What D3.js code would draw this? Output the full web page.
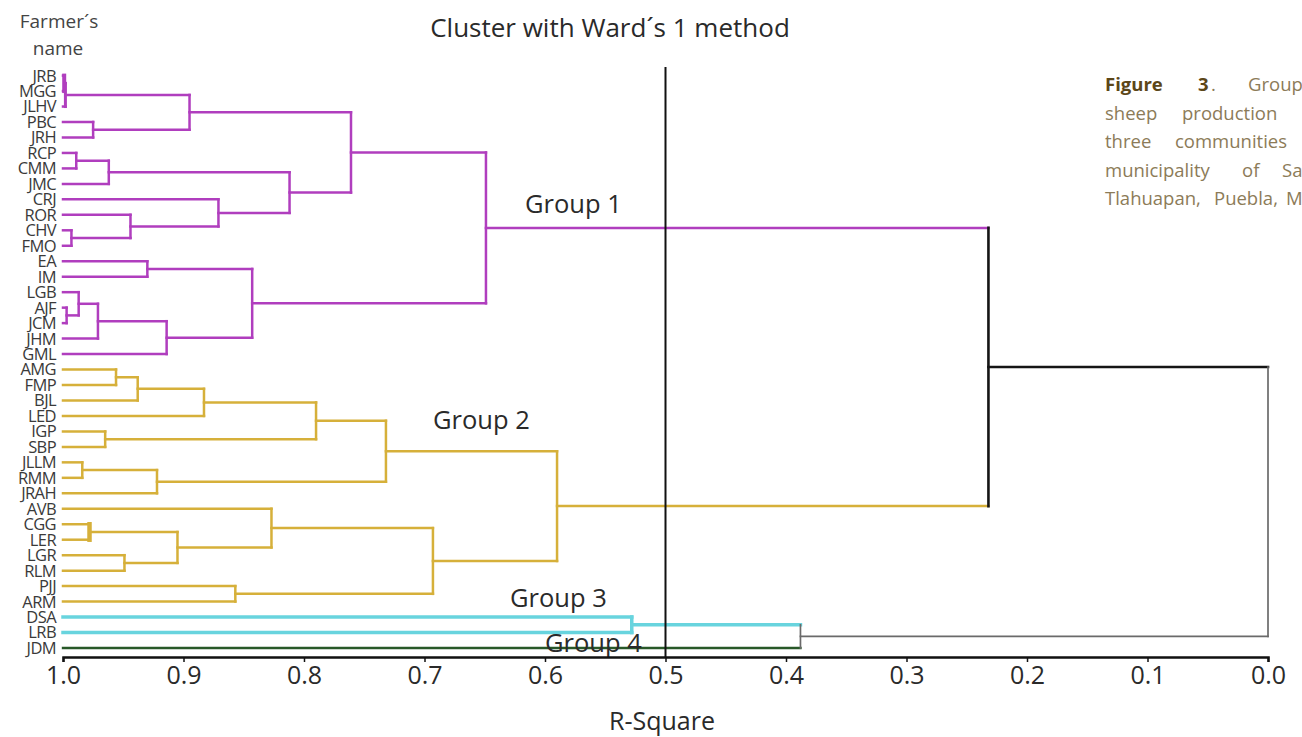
<!DOCTYPE html>
<html>
<head>
<meta charset="utf-8">
<script src="https://cdn.jsdelivr.net/npm/d3@7"></script>
<style>
  body { margin: 0; background: #fff; }
  text { font-family: "Open Sans", sans-serif; }
</style>
</head>
<body>
<script>
const w = 1302;
const h = 737;

// farmers, top to bottom as in the dendrogram
const farmers = ["JRB", "MGG", "JLHV", "PBC", "JRH", "RCP", "CMM", "JMC", "CRJ", "ROR",
  "CHV", "FMO", "EA", "IM", "LGB", "AJF", "JCM", "JHM", "GML",
  "AMG", "FMP", "BJL", "LED", "IGP", "SBP", "JLLM", "RMM", "JRAH", "AVB",
  "CGG", "LER", "LGR", "RLM", "PJJ", "ARM",
  "DSA", "LRB", "JDM"];

// merge steps: [left, right, R-square]; step i creates cluster "CL" + (i + 1)
const merges = [
  ["JRB", "MGG", 0.999], ["CL1", "JLHV", 0.998], ["PBC", "JRH", 0.975], ["CL2", "CL3", 0.895],
  ["RCP", "CMM", 0.989], ["CL5", "JMC", 0.962], ["CHV", "FMO", 0.993], ["ROR", "CL7", 0.944],
  ["CRJ", "CL8", 0.871], ["CL6", "CL9", 0.812], ["CL4", "CL10", 0.761], ["EA", "IM", 0.930],
  ["AJF", "JCM", 0.997], ["LGB", "CL13", 0.987], ["CL14", "JHM", 0.971], ["CL15", "GML", 0.914],
  ["CL12", "CL16", 0.843], ["CL11", "CL17", 0.649],
  ["AMG", "FMP", 0.956], ["CL19", "BJL", 0.938], ["CL20", "LED", 0.883], ["IGP", "SBP", 0.965],
  ["CL21", "CL22", 0.790], ["JLLM", "RMM", 0.984], ["CL24", "JRAH", 0.922], ["CL23", "CL25", 0.732],
  ["CGG", "LER", 0.978], ["LGR", "RLM", 0.949], ["CL27", "CL28", 0.905], ["AVB", "CL29", 0.827],
  ["PJJ", "ARM", 0.857], ["CL30", "CL31", 0.693], ["CL26", "CL32", 0.590],
  ["DSA", "LRB", 0.528], ["CL34", "JDM", 0.388],
  ["CL18", "CL33", 0.232], ["CL36", "CL35", 0.0]
];

const groupNames = ["Group 1", "Group 2", "Group 3", "Group 4"];
const groupRoots = ["CL18", "CL33", "CL34", "JDM"];
const axisTicks = [1.0, 0.9, 0.8, 0.7, 0.6, 0.5, 0.4, 0.3, 0.2, 0.1, 0.0];
const cutValue = 0.5;

// styles / layout
const groupColors = ["rgb(176, 62, 190)", "rgb(214, 176, 58)", "rgb(104, 212, 222)", "rgb(40, 88, 40)"];
const groupWidths = [2.5, 2.5, 3.5, 2.4];
const upperColors = { CL36: "#151515", CL35: "#6a6a6a", CL37: "#6a6a6a" };
const thickNodes = { CL1: 4, CL2: 3, CL27: 4.5 };
const groupLabelPos = [[525, 213], [433, 429], [510, 607], [545, 652]];

const svg = d3.select("body")
  .append("svg")
  .attr("width", w)
  .attr("height", h);

const x = d3.scaleLinear().domain([1, 0]).range([63, 1268]);
const y = d3.scalePoint().domain(farmers).range([75.6, 648]);

// build the tree from the merge list
const nodes = {};
farmers.forEach(f => { nodes[f] = { id: f, r: 1, y: y(f) }; });
merges.forEach((m, i) => {
  const a = nodes[m[0]], b = nodes[m[1]];
  nodes["CL" + (i + 1)] = { id: "CL" + (i + 1), r: m[2], y: (a.y + b.y) / 2, children: [a, b] };
});
const root = d3.hierarchy(nodes["CL" + merges.length]);

// colour by group
root.each(d => { d.color = upperColors[d.data.id] || "#6a6a6a"; d.width = 1.7; });
groupRoots.forEach((id, gi) => {
  const top = root.find(d => d.data.id === id);
  top.each(d => { d.color = groupColors[gi]; d.width = groupWidths[gi]; });
});
root.each(d => { if (d.data.id === "CL36") d.width = 2.6; });

const links = svg.append("g").attr("fill", "none").attr("stroke-linecap", "square");

// horizontal segment of each node up to its parent
links.selectAll("line.h")
  .data(root.descendants().filter(d => d.parent))
  .enter()
  .append("line")
  .attr("class", "h")
  .attr("x1", d => x(d.data.r))
  .attr("x2", d => x(d.parent.data.r))
  .attr("y1", d => d.data.y)
  .attr("y2", d => d.data.y)
  .attr("stroke", d => d.color)
  .attr("stroke-width", d => d.width);

// vertical segment joining the two children
links.selectAll("line.v")
  .data(root.descendants().filter(d => d.children))
  .enter()
  .append("line")
  .attr("class", "v")
  .attr("x1", d => x(d.data.r))
  .attr("x2", d => x(d.data.r))
  .attr("y1", d => d3.min(d.children, c => c.data.y))
  .attr("y2", d => d3.max(d.children, c => c.data.y))
  .attr("stroke", d => d.color)
  .attr("stroke-width", d => thickNodes[d.data.id] || d.width);

// leaf names
svg.append("g")
  .selectAll("text")
  .data(farmers)
  .enter()
  .append("text")
  .attr("x", 56)
  .attr("y", d => y(d))
  .attr("dy", "0.36em")
  .attr("text-anchor", "end")
  .attr("font-size", 16.5)
  .attr("letter-spacing", -0.6)
  .attr("fill", "#3a3a3a")
  .text(d => d);

// cut line at R-square 0.5
svg.append("line")
  .attr("x1", x(cutValue)).attr("x2", x(cutValue))
  .attr("y1", 67).attr("y2", 657)
  .attr("stroke", "#111")
  .attr("stroke-width", 2);

// group labels
svg.append("g")
  .selectAll("text")
  .data(groupNames)
  .enter()
  .append("text")
  .attr("x", (d, i) => groupLabelPos[i][0])
  .attr("y", (d, i) => groupLabelPos[i][1])
  .attr("font-size", 25.5)
  .attr("fill", "#2a2a2a")
  .text(d => d);

// axis
const axis = svg.append("g")
  .attr("transform", "translate(0, 657)")
  .call(d3.axisBottom(x).tickValues(axisTicks).tickFormat(d3.format(".1f")).tickSize(5).tickPadding(4));
axis.select(".domain").attr("stroke", "#111").attr("stroke-width", 2.5);
axis.selectAll(".tick line").attr("stroke", "#111").attr("stroke-width", 1.5);
axis.selectAll(".tick text").attr("font-size", 25).attr("fill", "#2a2a2a").attr("font-family", "Open Sans, sans-serif");

svg.append("text")
  .attr("x", 662).attr("y", 730)
  .attr("text-anchor", "middle")
  .attr("font-size", 25)
  .attr("fill", "#2a2a2a")
  .text("R-Square");

svg.append("text")
  .attr("x", 610).attr("y", 37)
  .attr("text-anchor", "middle")
  .attr("font-size", 26)
  .attr("fill", "#2a2a2a")
  .text("Cluster with Ward´s 1 method");

svg.append("text")
  .attr("x", 59).attr("y", 28)
  .attr("text-anchor", "middle")
  .attr("font-size", 19)
  .attr("fill", "#444")
  .text("Farmer´s");
svg.append("text")
  .attr("x", 58).attr("y", 55)
  .attr("text-anchor", "middle")
  .attr("font-size", 19)
  .attr("fill", "#444")
  .text("name");

// figure caption (cut by the right edge, justified words)
const captionWords = [
  [["Figure", 1105, true], ["3", 1198, true], [".", 1211, false], ["Groups", 1248, false]],
  [["sheep", 1105, false], ["production", 1182, false], ["units", 1310, false]],
  [["three", 1105, false], ["communities", 1175, false]],
  [["municipality", 1105, false], ["of", 1242, false], ["San", 1282, false]],
  [["Tlahuapan,", 1105, false], ["Puebla,", 1214, false], ["Mexico.", 1286, false]]
];
const cap = svg.append("g").attr("font-size", 18.5);
captionWords.forEach((line, li) => {
  cap.selectAll(null)
    .data(line)
    .enter()
    .append("text")
    .attr("x", d => d[1])
    .attr("y", 91 + li * 28.5)
    .attr("font-weight", d => d[2] ? 700 : 400)
    .attr("fill", d => d[2] ? "#5c4618" : "#8c7b58")
    .text(d => d[0]);
});
</script>
</body>
</html>
